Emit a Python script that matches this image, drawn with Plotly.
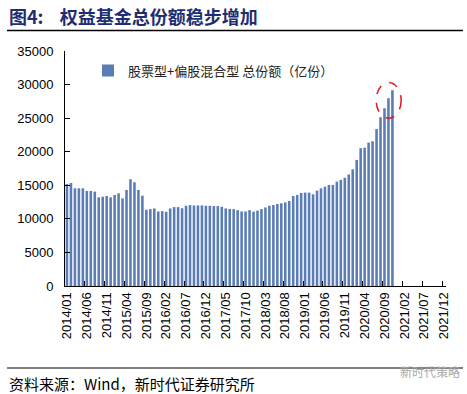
import plotly.graph_objects as go

# categories: monthly 2014/01 .. 2021/12 (axis span)
months = [f"{y}/{m:02d}" for y in range(2014, 2022) for m in range(1, 13)]

# 股票型+偏股混合型 总份额（亿份）, 2014/01 .. 2020/11
shares = [
    15200, 15350, 14550, 14550, 14550, 14150, 14150, 14050, 13200, 13300,
    13400, 13200, 13550, 13800, 13050, 14300, 15900, 15450, 14300, 13450,
    11350, 11450, 11550, 11100, 11150, 11050, 11550, 11750, 11750, 11580,
    11950, 12050, 12000, 12000, 12000, 11950, 11950, 11920, 11900, 11800,
    11550, 11480, 11450, 11300, 11100, 11100, 11300, 11080, 11230, 11450,
    11700, 11950, 12070, 12220, 12320, 12450, 12670, 13410, 13560, 13860,
    13910, 13910, 13660, 14210, 14550, 14800, 15050, 15050, 15550, 15800,
    16120, 16620, 17370, 18780, 20520, 20600, 21360, 21560, 23380, 25140,
    26480, 27970, 29160,
]
bar_months = months[:len(shares)]

tick_labels = months[::5]
y_ticks = [0, 5000, 10000, 15000, 20000, 25000, 30000, 35000]
y_tick_text = [str(v) for v in y_ticks]

series_name = "股票型+偏股混合型 总份额（亿份）"
title_text = "图4:    权益基金总份额稳步增加"
source_text = "资料来源：Wind，新时代证券研究所"

W, H = 467, 394
L, R, T, B = 65, 21, 51, 108
pw, ph = W - L - R, H - T - B

def px(x):
    return (x - L) / pw

def py(y):
    return (H - B - y) / ph

fig = go.Figure()
fig.add_trace(go.Bar(
    x=bar_months, y=shares, name=series_name,
    marker=dict(color="#5b7db6", line=dict(width=0)),
))

fig.update_layout(
    width=W, height=H,
    margin=dict(l=L, r=R, t=T, b=B, autoexpand=False),
    paper_bgcolor="white", plot_bgcolor="white",
    bargap=0.35,
    font=dict(family="Liberation Sans, Arial, sans-serif", size=13, color="#000"),
    showlegend=True,
    legend=dict(x=px(88), y=py(70.5), xanchor="left", yanchor="middle",
                bgcolor="rgba(0,0,0,0)", itemwidth=30,
                font=dict(family="Noto Sans CJK SC", size=13, color="#222")),
    xaxis=dict(
        type="category", categoryorder="array", categoryarray=months,
        range=[-0.5, len(months) - 0.5],
        tickmode="array", tickvals=tick_labels, ticktext=tick_labels,
        tickson="boundaries", automargin=False,
        ticks="inside", ticklen=5, tickcolor="#000", tickwidth=1,
        tickangle=-90, showline=True, linecolor="#000", linewidth=1,
        showgrid=False, zeroline=False,
        tickfont=dict(family="Liberation Sans, Arial, sans-serif", size=13, color="#000"),
    ),
    yaxis=dict(
        range=[0, 35000], tickmode="array", tickvals=y_ticks, ticktext=y_tick_text,
        ticks="inside", ticklen=5, tickcolor="#000", tickwidth=1,
        showline=True, linecolor="#000", linewidth=1, automargin=False,
        showgrid=False, zeroline=False, ticklabelstandoff=8,
        tickfont=dict(family="Liberation Sans, Arial, sans-serif", size=13, color="#000"),
    ),
)

# red dashed ellipse around the last bars
fig.add_shape(type="circle", xref="x", yref="y",
              x0=77.9, x1=84.2, y0=25000, y1=30300,
              line=dict(color="#e0141e", width=1.5, dash="dash"))

# title line and footer line
fig.add_shape(type="line", xref="paper", yref="paper",
              x0=px(7), x1=px(463), y0=py(30.5), y1=py(30.5),
              line=dict(color="#000", width=1.5))
fig.add_shape(type="line", xref="paper", yref="paper",
              x0=px(7), x1=px(463), y0=py(368), y1=py(368),
              line=dict(color="#000", width=1.2))

fig.add_annotation(xref="paper", yref="paper", x=px(7), y=py(16),
                   xanchor="left", yanchor="middle", showarrow=False,
                   text="<b>" + title_text + "</b>",
                   font=dict(family="Noto Sans CJK SC", size=18, color="#1f2d72"))
fig.add_annotation(xref="paper", yref="paper", x=px(7), y=py(383),
                   xanchor="left", yanchor="middle", showarrow=False,
                   text=source_text,
                   font=dict(family="Noto Sans CJK SC", size=15, color="#000"))
fig.add_annotation(xref="paper", yref="paper", x=px(462), y=py(371),
                   xanchor="right", yanchor="middle", showarrow=False,
                   text="新时代策略",
                   font=dict(family="Noto Sans CJK SC", size=12, color="#a8a8a8"))

fig.write_html("out.html", config={"displayModeBar": False},
               post_script="document.body.style.margin='0';document.body.style.padding='0';")
